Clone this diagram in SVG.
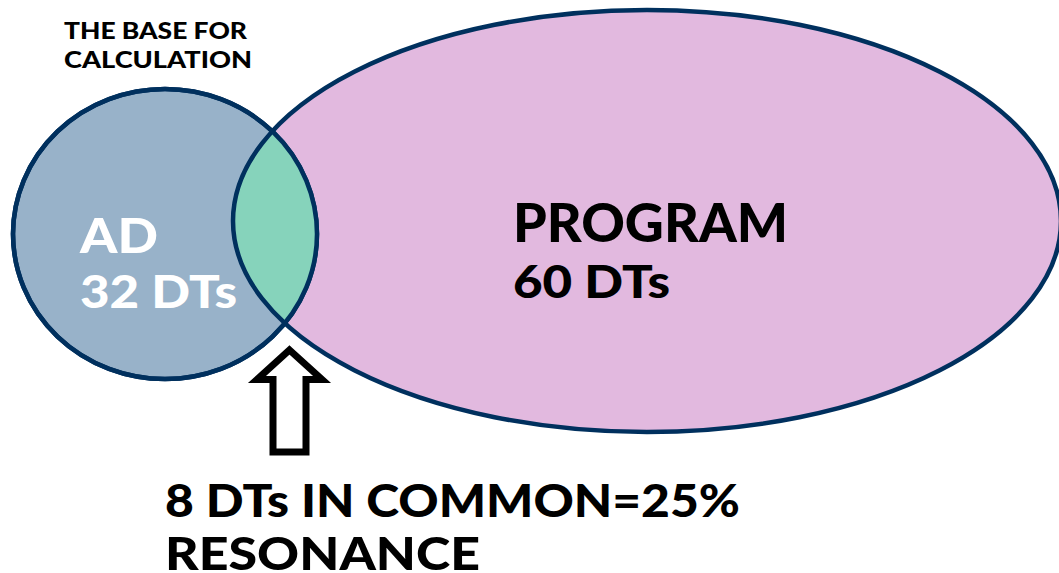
<svg xmlns="http://www.w3.org/2000/svg" width="1059" height="573" viewBox="0 0 1059 573">
  <style>
    .t { font-family: Lato, "Open Sans", "Liberation Sans", sans-serif; font-weight: 900; }
    .edge { stroke: #00305e; stroke-width: 4.5; }
  </style>
  <defs>
    <clipPath id="clipAD">
      <ellipse cx="165" cy="234" rx="152" ry="145"/>
    </clipPath>
  </defs>
  <rect width="1059" height="573" fill="#ffffff"/>
  <g id="node-program">
    <ellipse class="edge" cx="647" cy="221" rx="414" ry="211" fill="#e2b9df"/>
  </g>
  <g id="node-ad">
    <ellipse class="edge" cx="165" cy="234" rx="152" ry="145" fill="#98b2c9"/>
  </g>
  <g id="node-overlap">
    <ellipse cx="647" cy="221" rx="414" ry="211" fill="#86d3bb" clip-path="url(#clipAD)"/>
    <ellipse class="edge" cx="647" cy="221" rx="414" ry="211" fill="none" clip-path="url(#clipAD)"/>
    <ellipse class="edge" cx="165" cy="234" rx="152" ry="145" fill="none"/>
  </g>
  <g id="connectors">
    <polygon points="289.5,350 322,379.5 306,379.5 306,452 273,452 273,379.5 257,379.5" fill="#ffffff" stroke="#000000" stroke-width="7" stroke-linejoin="miter" stroke-miterlimit="10"/>
  </g>
  <g id="labels">
    <text class="t" x="64" y="39" font-size="22" fill="#000" textLength="183" lengthAdjust="spacingAndGlyphs">THE BASE FOR</text>
    <text class="t" x="64" y="68" font-size="22" fill="#000" textLength="188" lengthAdjust="spacingAndGlyphs">CALCULATION</text>
    <text class="t" x="80" y="253" font-size="48" fill="#ffffff" textLength="78" lengthAdjust="spacingAndGlyphs">AD</text>
    <text class="t" x="80" y="308" font-size="45" fill="#ffffff" textLength="157" lengthAdjust="spacingAndGlyphs">32 DTs</text>
    <text class="t" x="513" y="242" font-size="53" fill="#000" textLength="275" lengthAdjust="spacingAndGlyphs">PROGRAM</text>
    <text class="t" x="513" y="298" font-size="45" fill="#000" textLength="157" lengthAdjust="spacingAndGlyphs">60 DTs</text>
    <text class="t" x="165" y="516.5" font-size="46" fill="#000" textLength="575" lengthAdjust="spacingAndGlyphs">8 DTs IN COMMON=25%</text>
    <text class="t" x="165" y="570" font-size="45" fill="#000" textLength="315" lengthAdjust="spacingAndGlyphs">RESONANCE</text>
  </g>
</svg>
